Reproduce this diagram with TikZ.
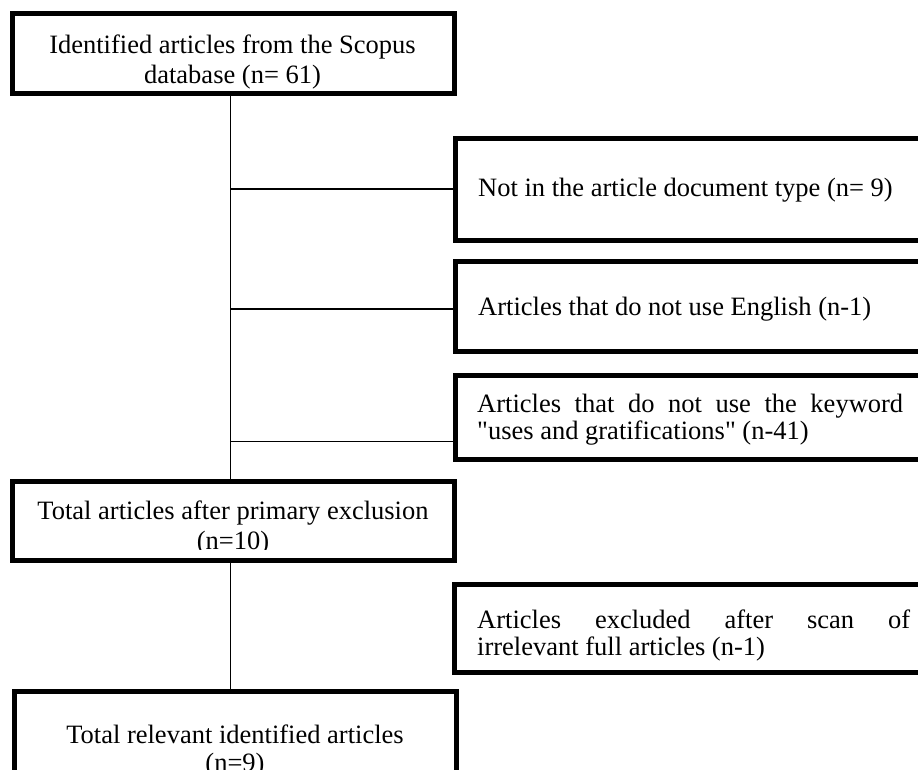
\documentclass[tikz,border=0pt]{standalone}
\usepackage{fontspec}
\setmainfont{Liberation Serif}[Ligatures=TeXOff]
\begin{document}
\begin{tikzpicture}[x=1pt,y=-1pt,
  box/.style={draw=black, line width=5pt, rectangle, inner sep=0pt},
  conn/.style={draw=black, line width=1.8pt},
  txt/.style={inner sep=0pt, font=\fontsize{26.5}{30}\selectfont}]
\useasboundingbox (0,0) rectangle (918,769);
\clip (0,0) rectangle (918,769);
\fill[white] (0,0) rectangle (918,769);
% boxes
\node[box, minimum width=442pt, minimum height=80.5pt] (b1) at (233.5,53.25) {};
\node[box, minimum width=472.5pt, minimum height=101.5pt] (b2) at (691.75,189.25) {};
\node[box, minimum width=472.5pt, minimum height=89.5pt] (b3) at (691.75,306.25) {};
\node[box, minimum width=472.5pt, minimum height=84pt] (b4) at (691.75,417) {};
\node[box, minimum width=442pt, minimum height=78.5pt] (b5) at (233.5,520.75) {};
\node[box, minimum width=473.5pt, minimum height=87.5pt] (b6) at (691.25,628.25) {};
\node[box, minimum width=442.5pt, minimum height=108.5pt] (b7) at (235.25,745.75) {};
% connectors
\coordinate (j1) at (230.5,189);
\coordinate (j2) at (230.5,309);
\coordinate (j3) at (230.5,441.5);
\draw[conn] (b1.south -| j1) -- (b5.north -| j1);
\draw[conn] (j1) -- (j1 -| b2.west);
\draw[conn] (j2) -- (j2 -| b3.west);
\draw[conn] (j3) -- (j3 -| b4.west);
\draw[conn] (b5.south -| j1) -- (b7.north -| j1);
% texts
\begin{scope}
\clip (15,15) rectangle (452,89);
\node[txt, anchor=base] (t1a) at (232.5,53) {Identified articles from the Scopus};
\node[txt, anchor=base] (t1b) at (232.5,83) {database (n= 61)};
\end{scope}
\node[txt, anchor=base west] (t2) at (478,196) {Not in the article document type (n= 9)};
\node[txt, anchor=base west] (t3) at (478,315) {Articles that do not use English (n-1)};
\node[txt, anchor=base west] (t4a) at (477,412) {\makebox[426pt][s]{Articles that do not use the keyword}};
\node[txt, anchor=base west] (t4b) at (477,439) {"uses and gratifications" (n-41)};
\begin{scope}
\clip (15,484) rectangle (452,549.5);
\node[txt, anchor=base] (t5a) at (233,519) {Total articles after primary exclusion};
\node[txt, anchor=base] (t5b) at (233,549) {(n=10)};
\end{scope}
\node[txt, anchor=base west] (t6a) at (477,628) {\makebox[433pt][s]{Articles excluded after scan of}};
\node[txt, anchor=base west] (t6b) at (477,655) {irrelevant full articles (n-1)};
\node[txt, anchor=base] (t7a) at (235,743) {Total relevant identified articles};
\node[txt, anchor=base] (t7b) at (235,771) {(n=9)};
\end{tikzpicture}
\end{document}
